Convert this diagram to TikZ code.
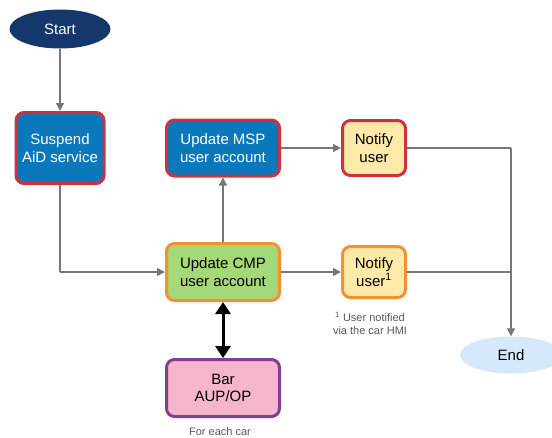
\documentclass[tikz,border=0pt]{standalone}
\usepackage{fontspec}
\setmainfont{Liberation Sans}
\usetikzlibrary{shapes.geometric,arrows.meta}
\definecolor{navy}{HTML}{14386B}
\definecolor{boxblue}{HTML}{0B78BC}
\definecolor{bred}{HTML}{D0313F}
\definecolor{ylw}{HTML}{FFE9A8}
\definecolor{grn}{HTML}{A4D878}
\definecolor{org}{HTML}{F1922F}
\definecolor{pnk}{HTML}{F5B5CB}
\definecolor{prp}{HTML}{7F3F97}
\definecolor{lblue}{HTML}{D6E8FB}
\definecolor{conn}{HTML}{777777}
\begin{document}
\begin{tikzpicture}[x=1pt,y=-1pt,
  txt/.style={font=\fontsize{15}{17.5}\selectfont,align=center,inner sep=0pt},
  boxbase/.style={txt,rectangle,rounded corners=8pt,line width=3pt},
  bluebox/.style={boxbase,fill=boxblue,draw=bred,text=white,minimum width=113pt},
  ntop/.style={boxbase,fill=ylw,draw=bred,minimum width=63pt},
  nbot/.style={boxbase,fill=ylw,draw=org,minimum width=63pt},
  greenbox/.style={boxbase,fill=grn,draw=org,minimum width=113pt},
  pinkbox/.style={boxbase,fill=pnk,draw=prp,minimum width=113pt},
  term/.style={txt,ellipse,inner sep=0pt},
  note/.style={font=\fontsize{11}{13}\selectfont,text=black!65,align=center,inner sep=0pt},
  arr/.style={draw=conn,line width=1.3pt,-{Triangle[width=8pt,length=8pt]}},
  ln/.style={draw=conn,line width=1.3pt},
  dbl/.style={draw=black,line width=3pt,{Triangle[width=15pt,length=12pt]}-{Triangle[width=15pt,length=12pt]}}
]
\clip (0,0) rectangle (552,437);
\node[term,fill=navy,text=white,minimum width=101pt,minimum height=39pt] (start) at (60,29) {Start};
\node[bluebox,minimum width=88pt,minimum height=71pt] (susp) at (60,148) {Suspend\\AiD service};
\node[bluebox,minimum height=56pt] (msp) at (223,148) {Update MSP\\user account};
\node[ntop,minimum height=55pt] (n1) at (374,148) {Notify\\user};
\node[greenbox,minimum height=57pt] (cmp) at (223,272) {Update CMP\\user account};
\node[nbot,minimum height=51pt] (n2) at (374,272) {Notify\\user\textsuperscript{1}};
\node[pinkbox,minimum height=57pt] (bar) at (223,388) {Bar\\AUP/OP};
\node[term,fill=lblue,minimum width=102pt,minimum height=37pt] (end) at (511,355) {End};
\node[note] (fn) at (370,323) {\textsuperscript{1} User notified\\via the car HMI};
\node[note] (fe) at (220,432) {For each car};
\coordinate (j1) at (511,148);
\coordinate (j2) at (511,272);
\coordinate (c1) at (60,272);

\draw[arr] (start) -- (susp);
\draw[ln] (susp.south) -- (c1);
\draw[arr] (c1) -- (cmp.west);
\draw[arr] (cmp) -- (msp);
\draw[arr] (msp) -- (n1);
\draw[arr] (cmp) -- (n2);
\draw[ln] (n1.east) -- (j1);
\draw[ln] (n2.east) -- (j2);
\draw[arr] (j1) -- (end.north);
\draw[dbl] (cmp) -- (bar);
\end{tikzpicture}
\end{document}
